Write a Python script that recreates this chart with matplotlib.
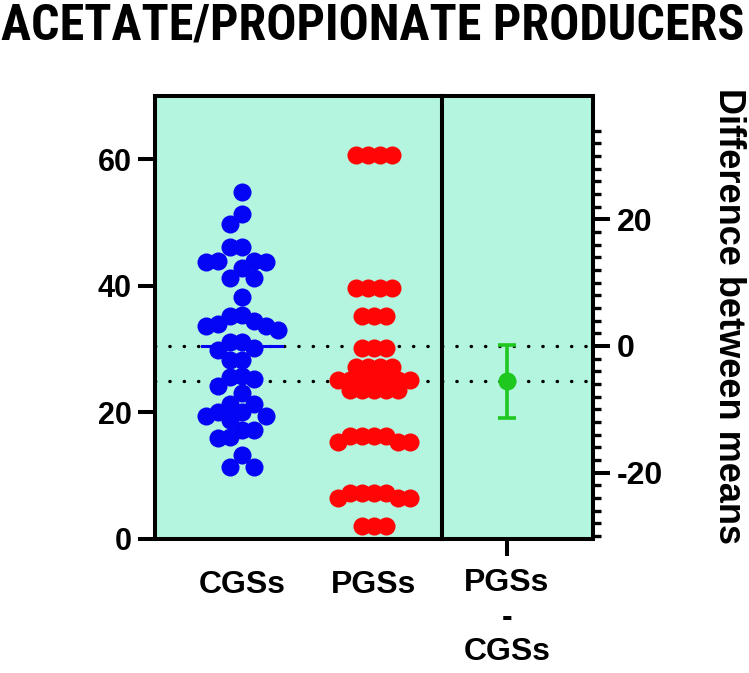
import os
import numpy as np
import matplotlib.pyplot as plt
from matplotlib import font_manager
from matplotlib.font_manager import FontProperties

# values
groups = ['CGSs', 'PGSs']
diff_label = 'PGSs\n-\nCGSs'
cgss = [54.9, 51.3, 49.8, 46.1, 46.1, 43.8, 44.0, 44.0, 43.8, 42.8, 41.2, 41.2,
        38.3, 35.2, 35.4, 33.6, 33.6, 33.1, 33.9, 34.4, 31.2, 31.2, 29.9, 30.2,
        28.3, 28.3, 25.6, 25.3, 25.7, 24.1, 23.1, 21.3, 20.1, 20.1, 21.4, 19.4,
        19.4, 18.8, 17.2, 17.2, 15.9, 16.1, 13.3, 11.4, 11.4]
pgss = [60.6] * 4 + [39.7] * 4 + [35.2] * 3 + [30.2] * 3 + [27.2] * 4 + \
       [25.2] * 7 + [23.6] * 5 + [16.3] * 4 + [15.3] * 3 + [7.2] * 4 + \
       [6.5] * 3 + [2.1] * 3
diff_mean = -5.6
diff_ci = (-11.4, 0.2)

left_ticks = [0, 20, 40, 60]
right_major = [-20, 0, 20]
right_minor = np.arange(-30, 35, 2)

bg = '#b3f5de'
colors = ['#0505f5', '#ff0505']
green = '#1ec81e'
lw = 2.9

names = {f.name for f in font_manager.fontManager.ttflist}
body_font = 'Liberation Sans' if 'Liberation Sans' in names else 'DejaVu Sans'
plt.rcParams['font.family'] = [body_font, 'DejaVu Sans']
plt.rcParams['axes.unicode_minus'] = False


def pick_condensed_bold():
    """Look for a narrow bold sans file for the title."""
    prefs = ['Liberation Sans Narrow', 'Roboto Condensed', 'Open Sans Condensed',
             'Noto Sans Condensed', 'DejaVu Sans Condensed', 'DejaVu Sans']
    found = []
    for f in font_manager.fontManager.ttflist:
        base = os.path.basename(f.fname)
        narrow = ('Narrow' in f.name or 'Condensed' in f.name or 'Condensed' in base
                  or 'Narrow' in base or f.stretch in ('condensed', 'semi-condensed'))
        w = f.weight if isinstance(f.weight, int) else font_manager.weight_dict.get(f.weight, 400)
        if narrow and w >= 600 and f.style == 'normal':
            rank = next((k for k, p in enumerate(prefs) if f.name.startswith(p)), len(prefs))
            found.append((rank, abs(w - 700), f.fname))
    if found:
        return FontProperties(fname=sorted(found)[0][2])
    return FontProperties(family=body_font, weight='bold')


def swarm(vals, slot_px, min_dy_px, ppu_y):
    """Pixel offsets for a slot based dot plot, ties centred."""
    vals = np.asarray(vals, dtype=float)
    y = vals * ppu_y
    slots = np.zeros(len(y))
    placed = []
    seq = [0] + [s for k in range(1, 40) for s in (-k, k)]
    for i in np.argsort(-y, kind='stable'):
        for s in seq:
            if all(slots[j] != s or abs(y[i] - y[j]) >= min_dy_px for j in placed):
                slots[i] = s
                break
        placed.append(i)
    for v in np.unique(vals):
        same = vals == v
        others = vals[~same]
        if same.sum() > 1 and not np.any(np.abs(others - v) * ppu_y < min_dy_px):
            slots[same] -= slots[same].mean()
    return slots * slot_px


fig = plt.figure(figsize=(7.49, 6.73), dpi=100)
ax = fig.add_axes([155 / 749, 134 / 673, 287 / 749, 443 / 673])
ax2 = fig.add_axes([442 / 749, 134 / 673, 151 / 749, 443 / 673])
ax3 = ax2.twinx()

for a in (ax, ax2):
    a.set_facecolor(bg)
    a.set_ylim(0, 70)

ax.set_xlim(-0.659, 1.515)
ax2.set_xlim(-0.65, 0.86)

# dot plots of the two groups
bbox = ax.get_window_extent()
ppu_x = bbox.width / (1.515 + 0.659)
ppu_y = bbox.height / 70
for k, (vals, col, gap) in enumerate(zip([cgss, pgss], colors, [15, 10])):
    off = swarm(vals, 12, gap, ppu_y)
    ax.scatter(k + off / ppu_x, vals, s=169, color=col, linewidths=0,
               zorder=3, clip_on=False)
    m = np.mean(vals)
    ax.plot([k - 0.3, k + 0.3], [m, m], color=col, lw=2.2, zorder=2.5)

ref = np.mean(cgss)
dot = dict(color='black', lw=2.4, ls=(0, (0.1, 4.2)), dash_capstyle='round', zorder=2)
ax.axhline(ref, **dot)
ax.axhline(ref + diff_mean, **dot)

# difference panel, in its own units
ax3.set_ylim(-ref, 70 - ref)
ax3.axhline(0, **dot)
ax3.axhline(diff_mean, **dot)
ax3.errorbar(0, diff_mean, yerr=[[diff_mean - diff_ci[0]], [diff_ci[1] - diff_mean]],
             fmt='o', color=green, ms=12, elinewidth=2.6, capsize=6.5, capthick=2.6,
             zorder=4)

# spines
for s in ax.spines.values():
    s.set_linewidth(lw)
for name, s in ax2.spines.items():
    s.set_linewidth(lw)
    s.set_visible(name in ('top', 'bottom', 'left'))
for name, s in ax3.spines.items():
    s.set_linewidth(lw)
    s.set_visible(name == 'right')

# ticks and labels
ax.set_yticks(left_ticks)
ax.set_xticks(range(len(groups)))
ax.set_xticklabels(groups)
ax.tick_params(axis='y', length=12, width=lw, pad=5, labelsize=22)
ax.tick_params(axis='x', length=0, pad=22, labelsize=23)

ax2.set_xticks([0])
ax2.set_xticklabels([diff_label], linespacing=1.2)
ax2.tick_params(axis='x', length=12, width=lw, pad=9, labelsize=23)
ax2.tick_params(axis='y', left=False, labelleft=False)

ax3.set_yticks(right_major)
ax3.set_yticks(right_minor, minor=True)
ax3.tick_params(axis='y', which='major', length=12, width=lw, pad=5, labelsize=23)
ax3.tick_params(axis='y', which='minor', length=6, width=2.4)

for a in (ax, ax2, ax3):
    for t in a.get_xticklabels() + a.get_yticklabels():
        t.set_fontweight('bold')

fig.text(0.972, 0.530, 'Difference between means', rotation=270, ha='center',
         va='center', fontsize=26, fontweight='bold')

title_prop = pick_condensed_bold()
title_prop.set_size(36.5)
title = fig.text(0.497, 0.997, 'ACETATE/PROPIONATE PRODUCERS', ha='center', va='top',
                 fontproperties=title_prop)
renderer = fig.canvas.get_renderer()
w = title.get_window_extent(renderer).width
if w > 744:
    title_prop.set_size(36.5 * 744 / w)
    title.set_fontproperties(title_prop)

fig.savefig('out.png', dpi=100)
